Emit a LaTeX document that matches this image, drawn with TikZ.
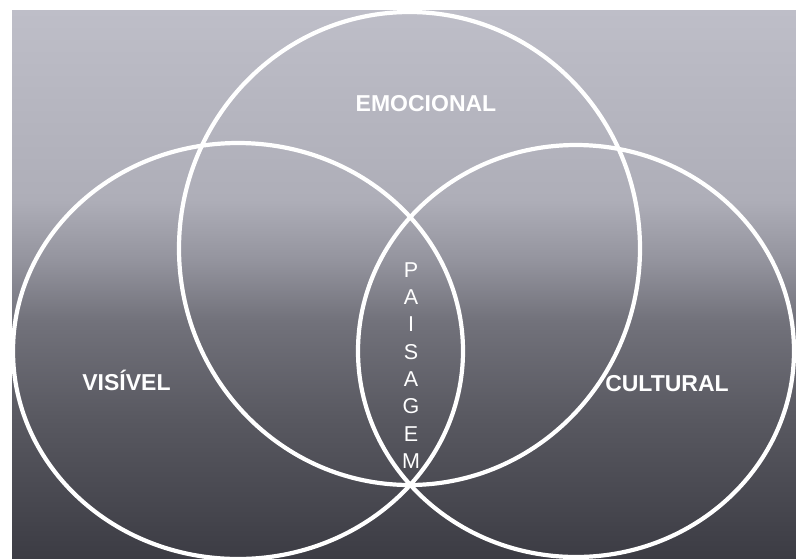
\documentclass[tikz,border=0pt]{standalone}
\usepackage{fontspec}
\setmainfont{Liberation Sans}
\definecolor{bgA}{RGB}{190,190,200}
\definecolor{bgB}{RGB}{174,174,184}
\definecolor{bgC}{RGB}{148,148,158}
\definecolor{bgD}{RGB}{114,114,123}
\definecolor{bgE}{RGB}{88,88,96}
\definecolor{bgF}{RGB}{60,60,68}
\pgfdeclareverticalshading{bggrad}{100bp}{%
  color(0bp)=(bgF); color(25bp)=(bgF); color(37.6bp)=(bgE);
  color(46.7bp)=(bgD); color(52.2bp)=(bgC); color(57.7bp)=(bgB);
  color(75bp)=(bgA); color(100bp)=(bgA)}
\tikzset{
  ring/.style={draw=white, line width=4.2pt},
  lbl/.style={text=white, font=\fontsize{23}{26}\selectfont\bfseries, inner sep=0pt},
  vlbl/.style={text=white, font=\fontsize{21.5}{27.3}\selectfont, align=center, inner sep=0pt}
}
\begin{document}
\begin{tikzpicture}[x=1pt,y=-1pt]
  \useasboundingbox (0,0) rectangle (796,558);
  \fill[white] (0,0) rectangle (796,558);
  \begin{scope}
    \clip (12,10) rectangle (796,558);
    \shade[shading=bggrad] (12,10) rectangle (796,558);
    \path[ring] (409.5,248.5) ellipse [x radius=230.5, y radius=236.5];
    \path[ring] (238,351) ellipse [x radius=225, y radius=208];
    \path[ring] (576,351) ellipse [x radius=218, y radius=206];
  \end{scope}
  \node[lbl] (emo) at (426,104) {EMOCIONAL};
  \node[lbl] (vis) at (126.5,380) {VISÍVEL};
  \node[lbl] (cul) at (667,384) {CULTURAL};
  \node[vlbl] (pais) at (411,365.5) {P\\A\\I\\S\\A\\G\\E\\M};
\end{tikzpicture}
\end{document}
